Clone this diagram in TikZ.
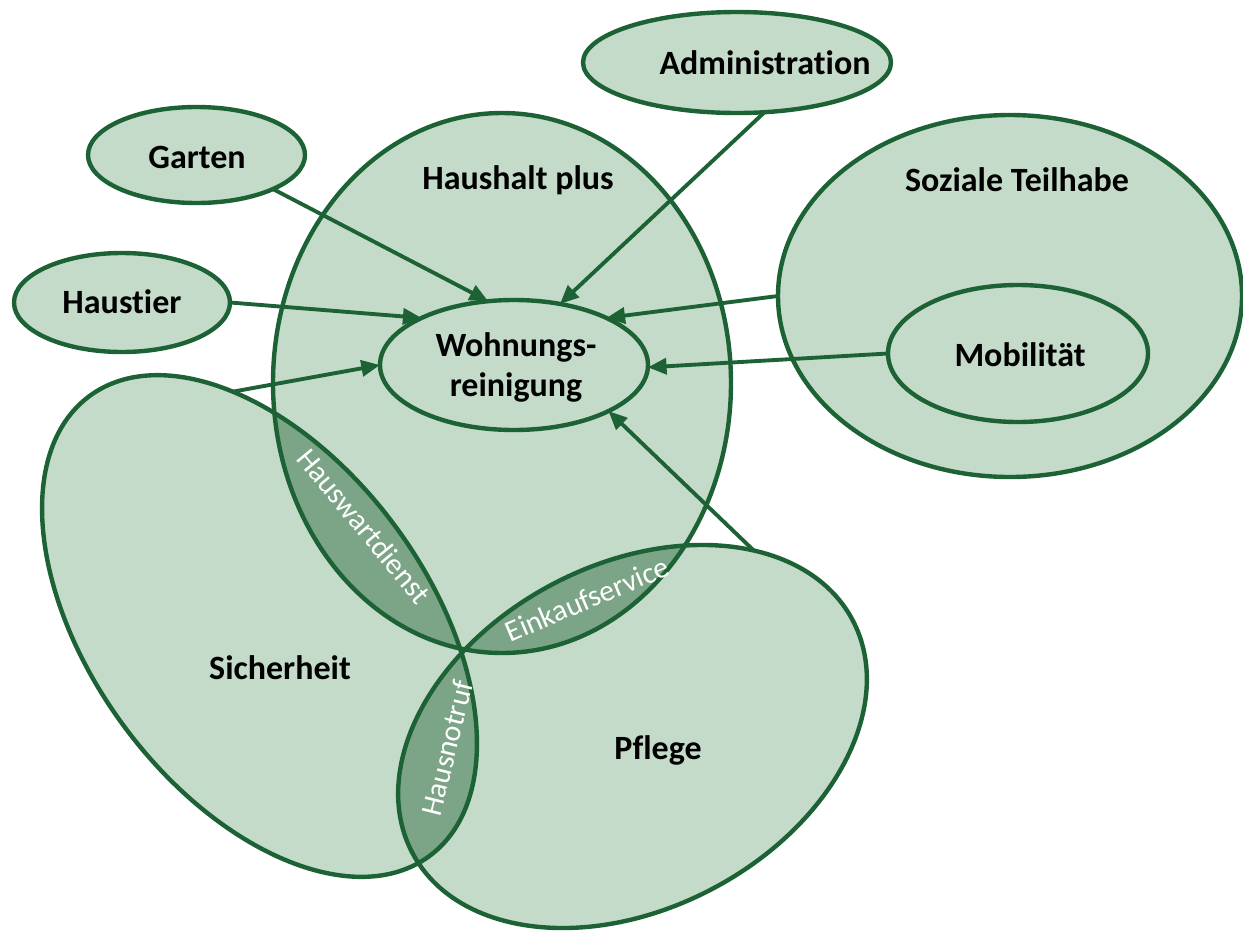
\documentclass[tikz,border=0pt]{standalone}
\usepackage{fontspec}
\setmainfont[Ligatures={NoCommon}]{Carlito}
\usetikzlibrary{shapes.geometric,arrows.meta}
\definecolor{dg}{RGB}{28,98,52}
\definecolor{lf}{RGB}{196,219,202}
\definecolor{df}{RGB}{124,164,134}
\begin{document}
\begin{tikzpicture}[x=0.75pt,y=-0.75pt,
  ell/.style={ellipse, draw=dg, line width=3.3pt, inner sep=0pt, outer sep=0pt},
  lbl/.style={font=\fontsize{25.5}{30}\selectfont\bfseries, text=black, align=center},
  wl/.style={font=\fontsize{22.5}{27}\selectfont, text=white},
  arr/.style={draw=dg, line width=2.9pt, -{Triangle[length=14pt,width=12pt]}}]
\useasboundingbox (0,0) rectangle (1243,932);
% light fills of the big ellipses
\fill[lf] (502,383) ellipse [x radius=229, y radius=270];
\fill[lf] (1010,296) ellipse [x radius=232, y radius=181];
\fill[lf,rotate around={-53.5:(259.5,626)}] (259.5,626) ellipse [x radius=286, y radius=168.5];
\fill[lf,rotate around={27.9:(632.5,736.5)}] (632.5,736.5) ellipse [x radius=249, y radius=172];
% darker lens fills
\begin{scope}
  \clip (502,383) ellipse [x radius=229, y radius=270];
  \fill[df,rotate around={-53.5:(259.5,626)}] (259.5,626) ellipse [x radius=286, y radius=168.5];
  \fill[df,rotate around={27.9:(632.5,736.5)}] (632.5,736.5) ellipse [x radius=249, y radius=172];
\end{scope}
\begin{scope}
  \clip[rotate around={-53.5:(259.5,626)}] (259.5,626) ellipse [x radius=286, y radius=168.5];
  \fill[df,rotate around={27.9:(632.5,736.5)}] (632.5,736.5) ellipse [x radius=249, y radius=172];
\end{scope}
% outlines
\node[ell, minimum width=343.5pt, minimum height=405pt] (haus) at (502,383) {};
\node[ell, minimum width=348pt, minimum height=271.5pt] (soz) at (1010,296) {};
\node[ell, minimum width=429pt, minimum height=252.75pt, rotate=-53.5] (sich) at (259.5,626) {};
\node[ell, minimum width=373.5pt, minimum height=258pt, rotate=27.9] (pfl) at (632.5,736.5) {};
\node[ell, minimum width=201pt, minimum height=97.5pt] (wr) at (514,365) {};
\node[ell, minimum width=195pt, minimum height=102.75pt] (mob) at (1018,353.5) {};
\node[ell, fill=lf, minimum width=231pt, minimum height=75.75pt] (adm) at (737,62.5) {};
\node[ell, fill=lf, minimum width=162.75pt, minimum height=72pt] (gar) at (196.5,155) {};
\node[ell, fill=lf, minimum width=162pt, minimum height=74.25pt] (hst) at (122,302.5) {};
% labels
\node[lbl] (thaus) at (518,180) {Haushalt plus};
\node[lbl] (tgar) at (197,157) {Garten};
\node[lbl] (tadm) at (765,63) {Administration};
\node[lbl] (tsoz) at (1017,180) {Soziale Teilhabe};
\node[lbl] (thst) at (122,302) {Haustier};
\node[lbl] (twr) at (516,367) {Wohnungs-\\reinigung};
\node[lbl] (tmob) at (1020,355) {Mobilität};
\node[lbl] (tsich) at (280,668) {Sicherheit};
\node[lbl] (tpfl) at (658,750) {Pflege};
\node[wl, rotate=-50.4] (thw) at (364,526) {Hauswartdienst};
\node[wl, rotate=23] (tek) at (587,599) {Einkaufservice};
\node[wl, rotate=76] (thn) at (447,748) {Hausnotruf};
% arrows
\draw[arr] (gar.-24) -- (wr.112.6);
\draw[arr] (adm.-61) -- (wr.53);
\draw[arr] (hst.0) -- (wr.153.4);
\draw[arr] (soz.180) -- (wr.27);
\draw[arr] (mob.180) -- (wr.-1.3);
\draw[arr] (sich.150.6) -- (wr.180);
\draw[arr] (pfl.29.5) -- (wr.-26.8);
\end{tikzpicture}
\end{document}
